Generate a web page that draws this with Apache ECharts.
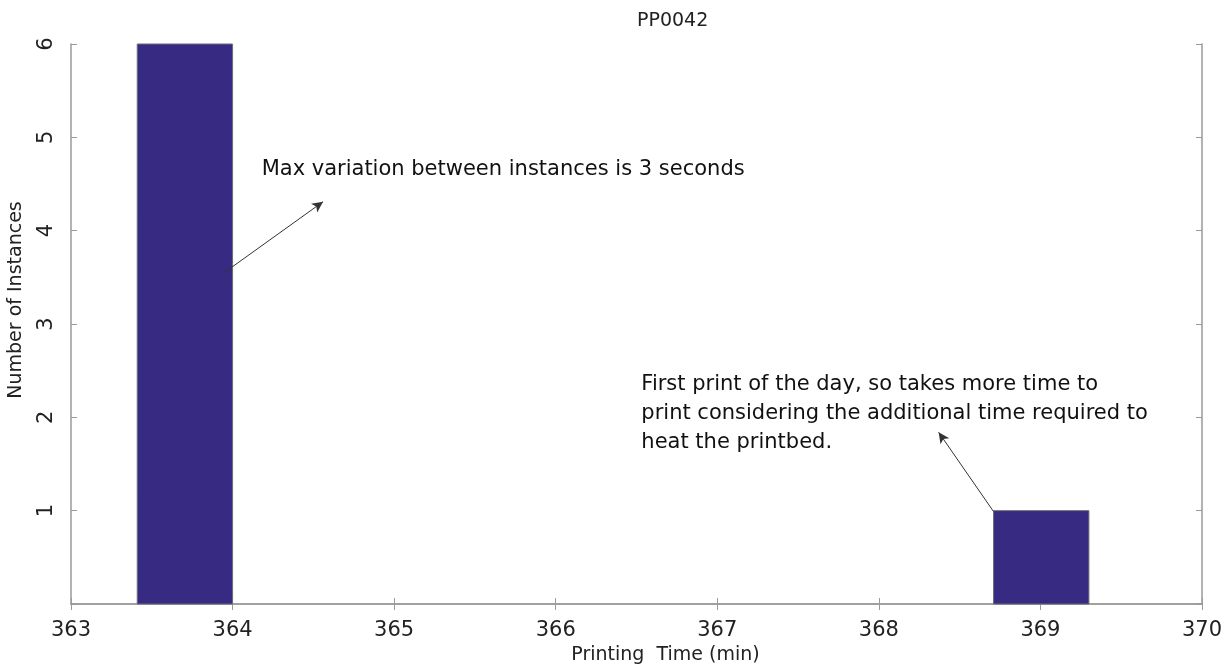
<!DOCTYPE html>
<html>
<head>
<meta charset="UTF-8">
<title>PP0042</title>
<script src="https://cdn.jsdelivr.net/npm/echarts@6/dist/echarts.min.js"></script>
<style>
  html, body { margin: 0; padding: 0; background: #fff; }
  #chart { width: 1228px; height: 666px; }
</style>
</head>
<body>
<div id="chart"></div>
<script>
// histogram bins: [start, end] in minutes, and count
var binStarts = [363.41, 368.71];
var binEnds = [364.0, 369.30];
var binCounts = [6, 1];

var xTicks = [363, 364, 365, 366, 367, 368, 369, 370];
var yTicks = [0, 1, 2, 3, 4, 5, 6];

// annotation arrows: [fromX, fromY] -> [toX, toY] in data space
var arrowFrom = [[363.94, 3.54], [368.71, 0.99]];
var arrowTo = [[364.56, 4.31], [368.37, 1.84]];
var noteText = [
  'Max variation between instances is 3 seconds',
  'First print of the day, so takes more time to\nprint considering the additional time required to\nheat the printbed.'
];
var notePos = [[364.18, 4.65], [366.53, 2.04]];

var font = 'DejaVu Sans';
var axisGray = '#9a9a9a';

var bins = [];
for (var i = 0; i < binCounts.length; i++) {
  bins.push([binStarts[i], binEnds[i], binCounts[i]]);
}

var chart = echarts.init(document.getElementById('chart'));

function baseX(extra) {
  var o = {
    type: 'value',
    min: xTicks[0],
    max: xTicks[xTicks.length - 1],
    interval: 1,
    splitLine: { show: false },
    axisLine: { show: true, lineStyle: { color: axisGray, width: 1.5 } },
    axisTick: { show: true, inside: true, length: 6, lineStyle: { color: axisGray } },
    axisLabel: { show: false }
  };
  for (var k in extra) o[k] = extra[k];
  return o;
}
function baseY(extra) {
  var o = {
    type: 'value',
    min: yTicks[0],
    max: yTicks[yTicks.length - 1],
    interval: 1,
    splitLine: { show: false },
    axisLine: { show: true, lineStyle: { color: axisGray, width: 1.5 } },
    axisTick: { show: true, inside: true, length: 6, lineStyle: { color: axisGray } },
    axisLabel: { show: false }
  };
  for (var k in extra) o[k] = extra[k];
  return o;
}

var option = {
  animation: false,
  backgroundColor: '#fff',
  title: {
    text: 'PP0042',
    left: 632,
    top: 7,
    textStyle: { fontFamily: font, fontSize: 19, fontWeight: 'normal', color: '#222' }
  },
  grid: { left: 71, right: 26, top: 44, bottom: 62, containLabel: false, outerBoundsMode: 'none' },
  xAxis: [
    baseX({
      position: 'bottom',
      name: 'Printing  Time (min)',
      nameLocation: 'middle',
      nameGap: 33,
      nameTextStyle: { fontFamily: font, fontSize: 19, color: '#222', padding: [0, 0, 0, 58] },
      axisLabel: { show: true, fontFamily: font, fontSize: 21, color: '#222', margin: 16 }
    }),
    baseX({ position: 'top' })
  ],
  yAxis: [
    baseY({
      position: 'left',
      name: 'Number of Instances',
      nameLocation: 'middle',
      nameGap: 45,
      nameTextStyle: { fontFamily: font, fontSize: 19, color: '#222', padding: [0, 0, 0, 48] },
      axisLabel: {
        show: true, rotate: 90, fontFamily: font, fontSize: 21, color: '#222', margin: 14,
        formatter: function (v) { return v === 0 ? '' : String(v); }
      }
    }),
    baseY({ position: 'right' })
  ],
  series: [
    {
      type: 'custom',
      xAxisIndex: 0,
      yAxisIndex: 0,
      data: bins,
      encode: { x: [0, 1], y: 2 },
      renderItem: function (params, api) {
        var p0 = api.coord([api.value(0), api.value(2)]);
        var p1 = api.coord([api.value(1), 0]);
        return {
          type: 'rect',
          shape: { x: p0[0], y: p0[1], width: p1[0] - p0[0], height: p1[1] - p0[1] },
          style: { fill: '#372a82', stroke: '#6a6a7a', lineWidth: 1 }
        };
      },
      z: 2
    },
    {
      type: 'scatter',
      xAxisIndex: 0,
      yAxisIndex: 0,
      symbolSize: 0,
      data: [],
      silent: true,
      markLine: {
        silent: true,
        symbol: ['none', 'arrow'],
        symbolSize: [8, 11],
        lineStyle: { color: '#333', width: 1, type: 'solid' },
        label: { show: false },
        data: arrowFrom.map(function (f, i) {
          return [{ coord: f }, { coord: arrowTo[i] }];
        })
      },
      markPoint: {
        silent: true,
        symbol: 'circle',
        symbolSize: 0,
        data: notePos.map(function (p, i) {
          return {
            coord: p,
            label: {
              show: true,
              position: 'right',
              distance: 0,
              formatter: noteText[i],
              fontFamily: font,
              fontSize: 21,
              lineHeight: 29,
              color: '#111',
              align: 'left'
            }
          };
        })
      }
    }
  ]
};

chart.setOption(option);
</script>
</body>
</html>
